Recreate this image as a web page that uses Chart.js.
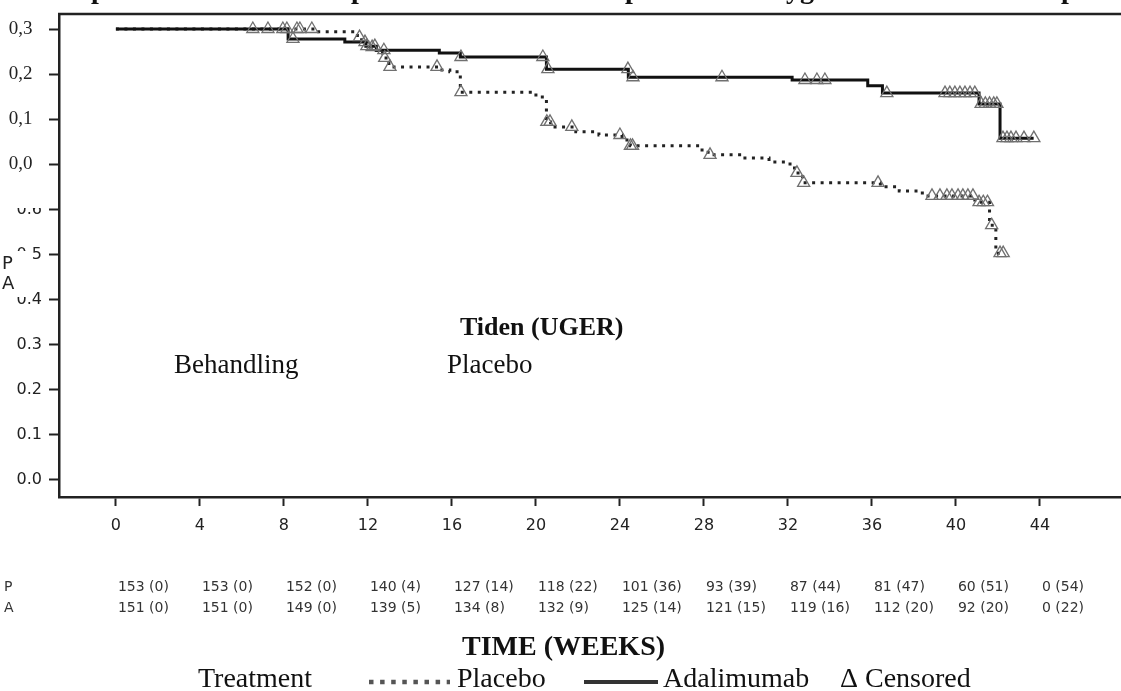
<!DOCTYPE html>
<html>
<head>
<meta charset="utf-8">
<script src="https://cdn.jsdelivr.net/npm/chart.js@4.4.1/dist/chart.umd.min.js"></script>
<style>
  html, body { margin: 0; padding: 0; background: #fff; overflow: hidden; }
  #wrap { width: 1121px; height: 691px; position: relative; }
  #km { display: block; }
</style>
</head>
<body>
<div id="wrap"><canvas id="km"></canvas></div>
<script>
// Ejes
const xTicks = [0, 4, 8, 12, 16, 20, 24, 28, 32, 36, 40, 44];
const yTicks = [0, 0.1, 0.2, 0.3, 0.4, 0.5, 0.6, 0.7, 0.8, 0.9, 1.0];
const yTickLabels = ['0.0', '0.1', '0.2', '0.3', '0.4', '0.5', '0.6', '0,0  ', '0,1  ', '0,2  ', '0,3  '];

// Curva Kaplan-Meier: Placebo (semanas / supervivencia)
const placeboWeeks = [0, 9.5, 11.5, 11.7, 12.1, 12.4, 12.7, 13.0, 15.4, 15.9, 16.4, 20.0, 20.5, 20.7, 21.9, 23.0, 24.1, 24.5, 27.8, 28.2, 29.7, 31.1, 32.1, 32.4, 32.7, 36.4, 37.3, 38.4, 40.9, 41.6, 41.9, 42.3];
const placeboSurv  = [1.0, 0.994, 0.982, 0.971, 0.96, 0.947, 0.936, 0.916, 0.909, 0.905, 0.86, 0.849, 0.794, 0.783, 0.772, 0.765, 0.754, 0.741, 0.732, 0.721, 0.714, 0.705, 0.692, 0.681, 0.659, 0.65, 0.641, 0.63, 0.616, 0.565, 0.503, 0.503];
const placeboCensor = [8.14, 8.62, 8.76, 9.33, 11.6, 12.2, 12.8, 13.05, 15.29, 16.43, 20.52, 20.67, 21.71, 24.0, 24.5, 24.6, 28.29, 32.43, 32.75, 36.29, 38.86, 39.24, 39.57, 39.81, 40.1, 40.33, 40.57, 40.81, 41.1, 41.3, 41.5, 41.7, 42.1, 42.25];

// Curva Kaplan-Meier: Adalimumab
const adaWeeks = [0, 8.2, 10.9, 11.9, 12.4, 15.4, 16.4, 20.5, 24.4, 32.2, 35.8, 36.5, 41.1, 42.1, 43.7];
const adaSurv  = [1.0, 0.978, 0.971, 0.962, 0.953, 0.947, 0.938, 0.911, 0.893, 0.887, 0.874, 0.858, 0.834, 0.758, 0.758];
const adaCensor = [6.52, 7.24, 7.95, 8.43, 11.86, 11.95, 12.33, 12.76, 16.43, 20.33, 20.57, 24.38, 24.62, 28.86, 32.81, 33.38, 33.76, 36.71, 39.48, 39.71, 39.95, 40.19, 40.43, 40.67, 40.9, 41.2, 41.4, 41.6, 41.8, 41.95, 42.24, 42.43, 42.62, 42.86, 43.24, 43.71];

// Pacientes en riesgo
const riskPlacebo = ['153 (0)', '153 (0)', '152 (0)', '140 (4)', '127 (14)', '118 (22)', '101 (36)', '93 (39)', '87 (44)', '81 (47)', '60 (51)', '0 (54)'];
const riskAda = ['151 (0)', '151 (0)', '149 (0)', '139 (5)', '134 (8)', '132 (9)', '125 (14)', '121 (15)', '119 (16)', '112 (20)', '92 (20)', '0 (22)'];

// valor de la curva escalonada en el tiempo t (las marcas de censura caen sobre la curva)
function survAt(weeks, surv, t) {
    let s = surv[0];
    for (let i = 0; i < weeks.length; i++) {
        if (weeks[i] <= t) s = surv[i];
    }
    return s;
}

const toXY = (w, s) => w.map((v, i) => ({ x: v, y: s[i] }));
const censorXY = (c, w, s) => c.map(t => ({ x: t, y: survAt(w, s, t) }));

const SERIF = "'Liberation Serif', 'Times New Roman', serif";
const SANS = "'DejaVu Sans', sans-serif";

const overlayPlugin = {
    id: 'overlay',
    afterDraw(chart) {
        const { ctx, chartArea } = chart;
        const xs = chart.scales.x;
        ctx.save();

        // marco superior
        ctx.strokeStyle = '#222';
        ctx.lineWidth = 2.5;
        ctx.beginPath();
        ctx.moveTo(chartArea.left - 1, chartArea.top);
        ctx.lineTo(chart.width, chartArea.top);
        ctx.stroke();

        // título recortado (solo se ven los descendentes)
        ctx.fillStyle = '#111';
        ctx.font = 'bold 28px ' + SERIF;
        ctx.textAlign = 'left';
        ctx.textBaseline = 'alphabetic';
        ctx.fillText('p', 91, -2);
        ctx.fillText('p', 351, -2);
        ctx.fillText('p', 625, -2);
        ctx.fillText('yg', 786, -2);
        ctx.fillText('p', 1061, -2);

        // parches blancos sobre etiquetas del eje Y
        ctx.fillStyle = '#fff';
        ctx.fillRect(6, 172, 40, 36);
        ctx.fillRect(0, 251, 31, 46);
        ctx.fillStyle = '#222';
        ctx.font = '18px ' + SANS;
        ctx.textBaseline = 'middle';
        ctx.fillText('P', 2, 264);
        ctx.fillText('A', 2, 284);

        // textos dentro del gráfico
        ctx.fillStyle = '#111';
        ctx.textBaseline = 'alphabetic';
        ctx.font = 'bold 26px ' + SERIF;
        ctx.fillText('Tiden (UGER)', 460, 335);
        ctx.font = '27px ' + SERIF;
        ctx.fillText('Behandling', 174, 373);
        ctx.fillText('Placebo', 447, 373);

        // tabla de pacientes en riesgo
        ctx.fillStyle = '#333';
        ctx.font = '14px ' + SANS;
        ctx.fillText('P', 4, 591);
        ctx.fillText('A', 4, 612);
        xTicks.forEach((w, i) => {
            const px = xs.getPixelForValue(w) + 2;
            ctx.fillText(riskPlacebo[i], px, 591);
            ctx.fillText(riskAda[i], px, 612);
        });

        // título del eje X y leyenda
        ctx.fillStyle = '#111';
        ctx.font = 'bold 28px ' + SERIF;
        ctx.fillText('TIME (WEEKS)', 462, 655);
        ctx.font = '28px ' + SERIF;
        ctx.fillText('Treatment', 198, 687);
        ctx.fillText('Placebo', 457, 687);
        ctx.fillText('Adalimumab', 663, 687);
        ctx.fillText('\u0394 Censored', 840, 687);

        ctx.strokeStyle = '#555';
        ctx.lineWidth = 4.5;
        ctx.setLineDash([4.5, 6.6]);
        ctx.beginPath();
        ctx.moveTo(369, 682);
        ctx.lineTo(450, 682);
        ctx.stroke();
        ctx.setLineDash([]);
        ctx.strokeStyle = '#333';
        ctx.lineWidth = 4;
        ctx.beginPath();
        ctx.moveTo(584, 682);
        ctx.lineTo(658, 682);
        ctx.stroke();

        ctx.restore();
    }
};

const censorStyle = {
    type: 'scatter',
    showLine: false,
    pointStyle: 'triangle',
    pointRadius: 7,
    pointHoverRadius: 7,
    borderColor: '#707070',
    backgroundColor: 'rgba(0,0,0,0)',
    borderWidth: 1.3
};

new Chart(document.getElementById('km'), {
    type: 'line',
    data: {
        datasets: [
            Object.assign({ label: 'Censored placebo', data: censorXY(placeboCensor, placeboWeeks, placeboSurv) }, censorStyle),
            Object.assign({ label: 'Censored adalimumab', data: censorXY(adaCensor, adaWeeks, adaSurv) }, censorStyle),
            {
                label: 'Adalimumab',
                data: toXY(adaWeeks, adaSurv),
                stepped: true,
                borderColor: '#111',
                borderWidth: 3,
                pointRadius: 0,
                fill: false
            },
            {
                label: 'Placebo',
                data: toXY(placeboWeeks, placeboSurv),
                stepped: true,
                borderColor: '#222',
                borderWidth: 3,
                borderDash: [3, 5.5],
                borderCapStyle: 'butt',
                pointRadius: 0,
                fill: false
            }
        ]
    },
    options: {
        responsive: true,
        maintainAspectRatio: false,
        animation: false,
        devicePixelRatio: 1,
        layout: { autoPadding: false, padding: { top: 14, right: 0, left: 0, bottom: 0 } },
        plugins: {
            legend: { display: false },
            title: { display: false },
            tooltip: { enabled: false }
        },
        scales: {
            x: {
                type: 'linear',
                min: -2.71,
                max: 47.86,
                afterBuildTicks: (axis) => { axis.ticks = xTicks.map(v => ({ value: v })); },
                afterFit: (axis) => { axis.height = 194; axis.paddingLeft = 0; axis.paddingRight = 0; },
                grid: { display: true, drawOnChartArea: false, drawTicks: true, tickLength: 9, tickColor: '#222', tickWidth: 2 },
                border: { display: true, color: '#222', width: 2.5 },
                ticks: {
                    color: '#222',
                    font: { family: SANS, size: 16 },
                    padding: 10,
                    maxRotation: 0,
                    callback: (v) => String(v)
                }
            },
            y: {
                type: 'linear',
                min: -0.0377,
                max: 1.0333,
                afterBuildTicks: (axis) => { axis.ticks = yTicks.map(v => ({ value: v })); },
                afterFit: (axis) => { axis.width = 59; axis.paddingTop = 0; axis.paddingBottom = 0; },
                grid: { display: true, drawOnChartArea: false, drawTicks: true, tickLength: 10, tickColor: '#222', tickWidth: 2 },
                border: { display: true, color: '#222', width: 2.5 },
                ticks: {
                    color: '#222',
                    padding: 7,
                    font: (c) => (c.tick && c.tick.value > 0.65)
                        ? { family: SERIF, size: 19 }
                        : { family: SANS, size: 16 },
                    callback: (v, i) => yTickLabels[i]
                }
            }
        }
    },
    plugins: [overlayPlugin]
});
</script>
</body>
</html>
